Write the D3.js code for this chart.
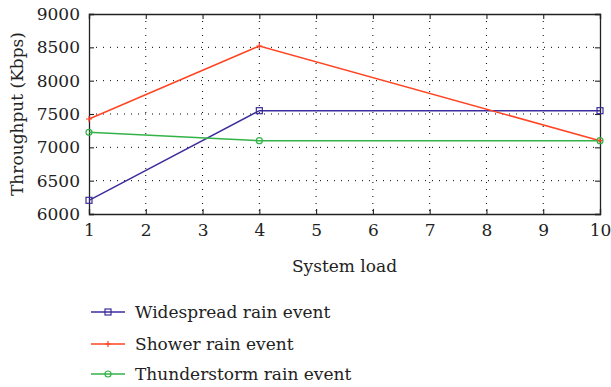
<!DOCTYPE html>
<html><head><meta charset="utf-8">
<script src="https://cdn.jsdelivr.net/npm/d3@7"></script>
<style>body{margin:0;background:#fff} text{font-family:"DejaVu Serif" !important;}</style>
</head><body><svg id="c" width="611" height="387"></svg>
<script>
const xTicks = [1,2,3,4,5,6,7,8,9,10];
const yTicks = [6000,6500,7000,7500,8000,8500,9000];
const xPoints = [1,4,10];
const widespread = [6205,7550,7550];
const shower = [7425,8520,7100];
const thunderstorm = [7225,7100,7100];
const seriesNames = ["Widespread rain event","Shower rain event","Thunderstorm rain event"];
const colors = ["#3b2d9c","#ff4422","#33b347"];

const svg = d3.select("#c");
const L=89,R=600,T=14,B=214;
const x = d3.scaleLinear().domain([1,10]).range([L,R]);
const y = d3.scaleLinear().domain([6000,9000]).range([B,T]);

const g = svg.append("g");
g.selectAll(".gx").data(xTicks.slice(1,-1)).join("line")
 .attr("x1",d=>x(d)).attr("x2",d=>x(d)).attr("y1",T).attr("y2",B)
 .attr("stroke","#000").attr("stroke-width",1).attr("stroke-dasharray","1,6");
g.selectAll(".gy").data(yTicks.slice(1,-1)).join("line")
 .attr("y1",d=>y(d)).attr("y2",d=>y(d)).attr("x1",L).attr("x2",R)
 .attr("stroke","#000").attr("stroke-width",1).attr("stroke-dasharray","1,6");

const ax = svg.append("g").attr("transform",`translate(0,${B})`).call(d3.axisBottom(x).tickValues(xTicks).tickSize(-5).tickPadding(10).tickFormat(d3.format("d")));
const axT = svg.append("g").attr("transform",`translate(0,${T})`).call(d3.axisTop(x).tickValues(xTicks).tickSize(-5).tickFormat(""));
const ay = svg.append("g").attr("transform",`translate(${L},0)`).call(d3.axisLeft(y).tickValues(yTicks).tickSize(-5).tickPadding(9).tickFormat(d3.format("d")));
const ayR = svg.append("g").attr("transform",`translate(${R},0)`).call(d3.axisRight(y).tickValues(yTicks).tickSize(-5).tickFormat(""));
[ax,axT,ay,ayR].forEach(a=>{
  a.select(".domain").attr("stroke","#222").attr("stroke-width",1.3);
  a.selectAll(".tick line").attr("stroke","#222").attr("stroke-width",1.1);
  a.selectAll("text").attr("font-size",17).attr("fill","#222");
});

const data = [widespread,shower,thunderstorm];
const line = d3.line().x((d,i)=>x(xPoints[i])).y(d=>y(d));
data.forEach((s,k)=>{
  svg.append("path").attr("d",line(s)).attr("fill","none").attr("stroke",colors[k]).attr("stroke-width",1.5);
});
function marker(sel,k,cx,cy){
  if(k===0) sel.append("rect").attr("x",cx-3).attr("y",cy-3).attr("width",6).attr("height",6).attr("fill","none").attr("stroke",colors[k]).attr("stroke-width",1.2);
  else if(k===1){ sel.append("path").attr("d",`M${cx-3},${cy}H${cx+3}M${cx},${cy-3}V${cy+3}`).attr("stroke",colors[k]).attr("stroke-width",1.2);}
  else sel.append("circle").attr("cx",cx).attr("cy",cy).attr("r",3).attr("fill","none").attr("stroke",colors[k]).attr("stroke-width",1.2);
}
data.forEach((s,k)=>{
  s.forEach((v,i)=>marker(svg,k,x(xPoints[i]),y(v)));
});

svg.append("text").attr("x",(L+R)/2).attr("y",272).attr("text-anchor","middle")
 .attr("font-size",17).attr("fill","#222").text("System load");
svg.append("text").attr("transform",`translate(23,${(T+B)/2}) rotate(-90)`).attr("text-anchor","middle")
 .attr("font-size",17).attr("fill","#222").text("Throughput (Kbps)");

const ly=[312,344,374];
seriesNames.forEach((n,k)=>{
  svg.append("line").attr("x1",91).attr("x2",125).attr("y1",ly[k]).attr("y2",ly[k]).attr("stroke",colors[k]).attr("stroke-width",1.5);
  marker(svg,k,108,ly[k]);
  svg.append("text").attr("x",135).attr("y",ly[k]+6).attr("font-size",17).attr("fill","#222").text(n);
});
</script></body></html>
